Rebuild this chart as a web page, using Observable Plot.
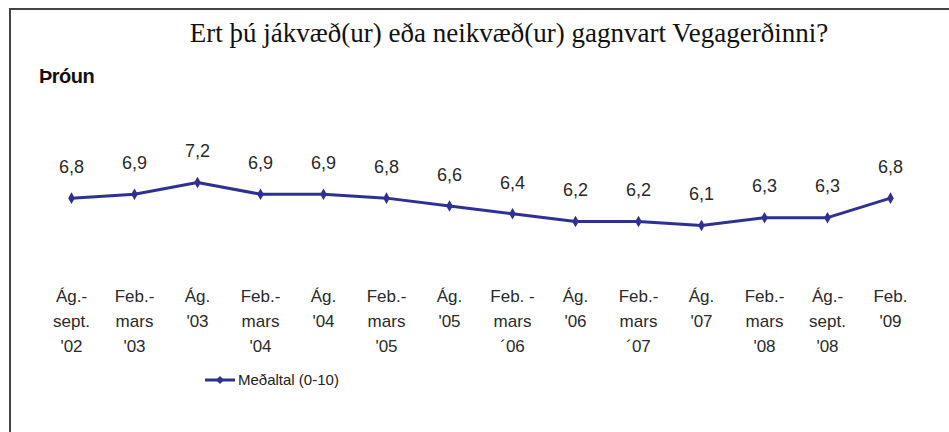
<!DOCTYPE html>
<html><head><meta charset="utf-8">
<script src="https://cdn.jsdelivr.net/npm/d3@7"></script>
<script src="https://cdn.jsdelivr.net/npm/@observablehq/plot@0.6"></script>
<style>
html,body{margin:0;padding:0;background:#fff;}
#wrap{position:relative;width:949px;height:432px;overflow:hidden;background:#fff;}
#border{position:absolute;left:9px;top:8px;width:960px;height:460px;border-left:2px solid #444;border-top:2px solid #444;}
#title{position:absolute;left:0;width:1018px;top:18px;text-align:center;font-family:"Liberation Serif","Times New Roman",serif;font-size:27px;color:#111;}
#sub{position:absolute;left:39px;top:65px;font-family:"Liberation Sans",Arial,sans-serif;font-weight:bold;font-size:20px;color:#111;letter-spacing:-0.5px;}
#chart{position:absolute;left:0;top:0;}
#legend{position:absolute;left:205px;top:371px;font-family:"Liberation Sans",Arial,sans-serif;font-size:15px;color:#222;display:flex;align-items:center;gap:3px;}
</style></head>
<body><div id="wrap"><div id="border"></div><div id="title">Ert þú jákvæð(ur) eða neikvæð(ur) gagnvart Vegagerðinni?</div><div id="sub">Þróun</div><div id="chart"></div>
<div id="legend"><svg width="30" height="10"><line x1="0" y1="5" x2="30" y2="5" stroke="#2e3192" stroke-width="3"/><path d="M15,1 L19,5 L15,9 L11,5 Z" fill="#2e3192"/></svg><span>Meðaltal (0-10)</span></div>
</div>
<script>
const periods = ["Ág.-\nsept.\n'02","Feb.-\nmars\n'03","Ág.\n'03","Feb.-\nmars\n'04","Ág.\n'04","Feb.-\nmars\n'05","Ág.\n'05","Feb. -\nmars\n´06","Ág.\n'06","Feb.-\nmars\n´07","Ág.\n'07","Feb.-\nmars\n'08","Ág.-\nsept.\n'08","Feb.\n'09"];
const values = [6.8,6.9,7.2,6.9,6.9,6.8,6.6,6.4,6.2,6.2,6.1,6.3,6.3,6.8];
const data = periods.map((p,i)=>({p, v: values[i]}));
const blue = "#2e3192";
const fontFam = "Liberation Sans, Arial, sans-serif";
const chart = Plot.plot({
  width: 949, height: 432,
  marginLeft: 68, marginRight: 56, marginTop: 0, marginBottom: 148,
  style: {background: "transparent", fontFamily: fontFam},
  x: {type: "point", domain: periods, padding: 0, range: [68, 893], axis: null},
  y: {domain: [6.1, 7.2], range: [225, 182], axis: null},
  marks: [
    Plot.line(data, {x: "p", y: "v", stroke: blue, strokeWidth: 3}),
    Plot.dot(data, {x: "p", y: "v", symbol: "diamond", r: 3.5, fill: blue}),
    Plot.text(data, {x: "p", y: "v", text: d => d3.format(".1f")(d.v).replace(".", ","), dy: -31, fontSize: 18, fill: "#2a2a2a"}),
    Plot.text(data, {x: "p", text: "p", frameAnchor: "bottom", lineAnchor: "top", dy: 0, fontSize: 17, lineHeight: 1.47, fill: "#2a2a2a"})
  ]
});
document.getElementById("chart").appendChild(chart);
</script></body></html>
